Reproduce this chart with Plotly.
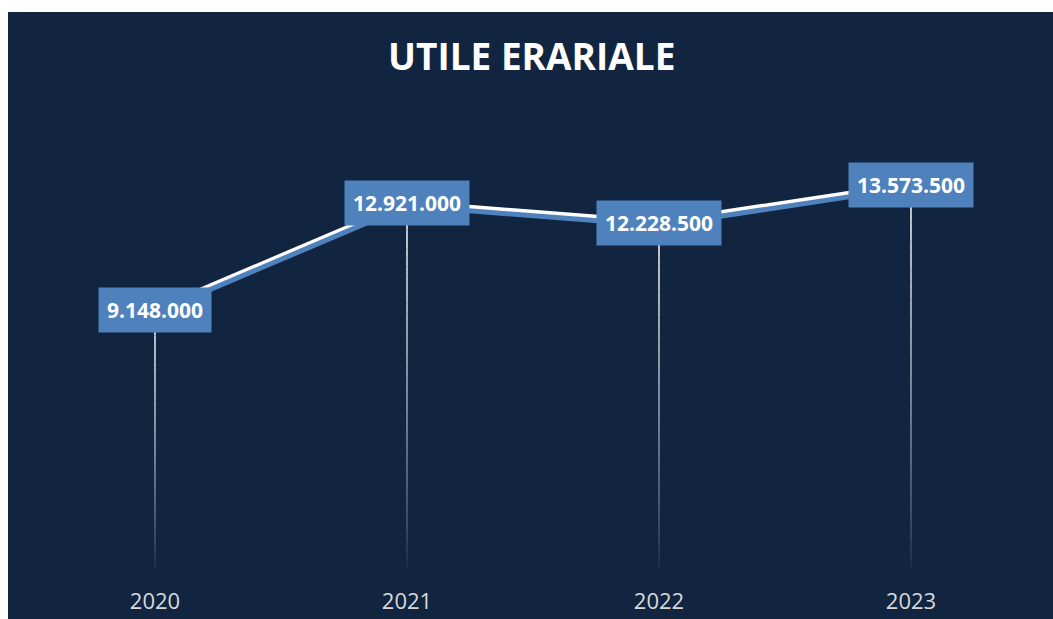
import plotly.graph_objects as go

years = ["2020", "2021", "2022", "2023"]
values = [9148000, 12921000, 12228500, 13573500]
y_max = 16000000

NAVY = "#112540"
BLUE = "#4F81BD"

ml, mr, mt, mb = 29, 16, 115, 50
W, H = 1053, 619
pw = W - ml - mr
ph = H - mt - mb

fig = go.Figure()

# shadow line (blue), offset a few pixels down via shifted overlay axis
shift = 3.5 / ph * y_max
fig.add_trace(go.Scatter(x=years, y=values, mode="lines",
                         line=dict(color=BLUE, width=5),
                         yaxis="y2", hoverinfo="skip", showlegend=False))
fig.add_trace(go.Scatter(x=years, y=values, mode="lines",
                         line=dict(color="white", width=5),
                         hoverinfo="skip", showlegend=False))

shapes = []
# dark background panel
shapes.append(dict(type="rect", xref="paper", yref="paper", layer="below",
                   x0=(8 - ml) / pw, x1=1.1, y0=-0.3, y1=(H - mb - 12) / ph,
                   fillcolor=NAVY, line=dict(width=0)))
# fading drop lines
N = 40
for i, v in enumerate(values):
    for k in range(N):
        t = k / N
        a = 0.95 * (1 - t) ** 0.75
        shapes.append(dict(type="line", xref="x", yref="y", layer="below",
                           x0=i, x1=i, y0=v * (1 - t), y1=v * (1 - (k + 1) / N),
                           line=dict(color=f"rgba(232,234,240,{a:.3f})", width=1.8)))

annotations = []
for i, v in enumerate(values):
    annotations.append(dict(x=i, y=v, xref="x", yref="y", showarrow=False,
                            text=f"{v:,}".replace(",", "."),
                            font=dict(family="Open Sans", size=21, color="white", weight="bold"),
                            bgcolor=BLUE, borderpad=8, yshift=-1))
annotations.append(dict(x=(531.5 - ml) / pw, y=(H - mb - 55) / ph, xref="paper", yref="paper",
                        xanchor="center", yanchor="middle", showarrow=False,
                        text="<b>UTILE ERARIALE</b>",
                        font=dict(family="Open Sans", size=37, color="white")))

fig.update_layout(
    width=W, height=H,
    margin=dict(l=ml, r=mr, t=mt, b=mb, autoexpand=False),
    paper_bgcolor="white", plot_bgcolor="rgba(0,0,0,0)",
    showlegend=False,
    xaxis=dict(type="category", range=[-0.5, 3.5], showgrid=False, zeroline=False,
               showline=False, ticks="outside", ticklen=13, tickcolor="rgba(0,0,0,0)",
               automargin=False,
               tickfont=dict(family="Open Sans", size=22, color="#D9D9D9")),
    yaxis=dict(range=[0, y_max], visible=False, showgrid=False, zeroline=False, automargin=False),
    yaxis2=dict(range=[shift, y_max + shift], overlaying="y", visible=False, automargin=False),
    shapes=shapes,
    annotations=annotations,
)

fig.write_html("out.html")
